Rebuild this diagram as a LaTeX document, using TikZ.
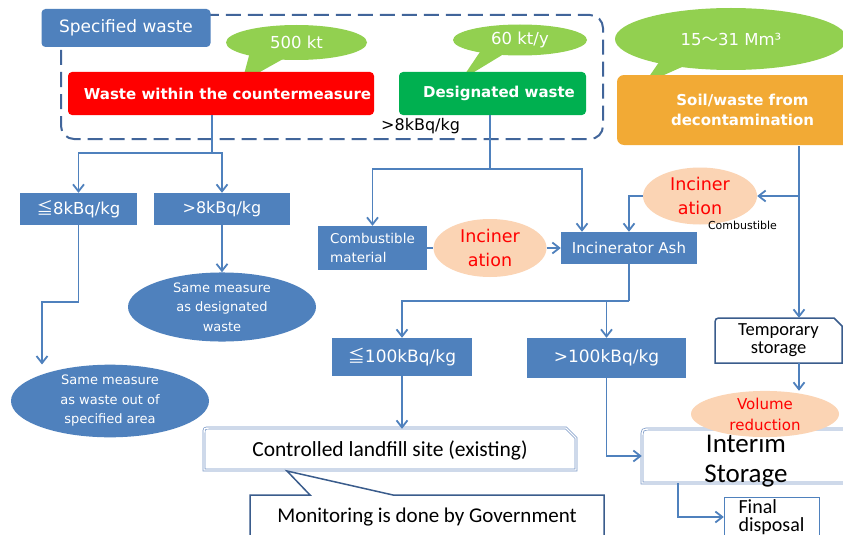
\documentclass[tikz,border=0pt]{standalone}
\usepackage{fontspec}
\setmainfont{DejaVu Sans}
\newfontfamily\mf{DejaVu Sans}
\newfontfamily\cf{Carlito}
\newfontfamily\jf{Noto Sans CJK JP}
\usetikzlibrary{arrows.meta,shapes.geometric,calc}
\newcommand{\fsz}[2]{\fontsize{#1}{#2}\selectfont}
\definecolor{mblue}{HTML}{4F81BD}
\definecolor{lgreen}{HTML}{92D050}
\definecolor{dgreen}{HTML}{00B050}
\definecolor{orng}{HTML}{F2AA35}
\definecolor{peach}{HTML}{FBD4B4}
\definecolor{dframe}{HTML}{41659A}
\definecolor{dborder}{HTML}{3A5C8C}
\definecolor{lborder}{HTML}{7594C4}
\begin{document}
\begin{tikzpicture}[x=1pt,y=-1pt,
  conn/.style={draw=mblue,line width=1.8pt},
  arr/.style={conn,-{Straight Barb[length=7pt,width=11pt]}},
  sz/.style 2 args={minimum width=#1pt,minimum height=#2pt},
  bbox/.style={rectangle,fill=mblue,text=white,inner sep=0pt,align=center},
  bell/.style={ellipse,fill=mblue,text=white,inner sep=0pt,align=center,font={\mf\fsz{13}{19.5}}},
  pell/.style={ellipse,fill=peach,text=red,inner sep=0pt,align=center},
  gell/.style={ellipse,fill=lgreen,text=white,inner sep=0pt,font={\mf\fsz{16.5}{20}}},
  wbox/.style={fill=white,draw=dborder,line width=1.5pt},
  dbl/.style={fill=white,draw=lborder,line width=0.7pt,double=white,double distance=1.4pt},
  plain/.style={inner sep=0pt,align=center}]
\useasboundingbox (0,0) rectangle (843,535);
\clip (0,0) rectangle (843,535);
\fill[white] (0,0) rectangle (843,535);

% dashed frame and its title
\draw[dframe,line width=2pt,dash pattern=on 15pt off 7pt,rounded corners=13pt] (61,15) rectangle (603,139);
\node[bbox,sz={169}{38},rounded corners=4pt,font={\mf\fsz{17}{20}}] (spec) at (126,28) {Specified waste};

% callout tails
\fill[lgreen] (250,52) -- (292,54) -- (242,82) -- cycle;
\fill[lgreen] (484,46) -- (512,49) -- (461,80) -- cycle;
\fill[lgreen] (666,52) -- (702,58) -- (644,84) -- cycle;
\node[gell,sz={141}{35}] (c500) at (296.5,42.5) {500 kt};
\node[gell,sz={134}{31}] (c60) at (520,40) {60 kt/y};
\node[gell,sz={232}{62}] (c15) at (731,39) {15{\jf 〜}31 Mm³};

% top boxes
\node[bbox,fill=red,sz={306}{43},rounded corners=4pt,font={\mf\bfseries\fsz{15}{18}}] (red) at (221,93.5) {\hspace*{13pt}Waste within the countermeasure};
\node[bbox,fill=dgreen,sz={187}{43},rounded corners=4pt,font={\mf\bfseries\fsz{15}{18}}] (green) at (492.5,93.5) {\hspace*{13pt}Designated waste};
\node[bbox,fill=orng,sz={251}{70},rounded corners=7pt,font={\mf\bfseries\fsz{15}{20}}] (orange) at (742.5,110) {Soil/waste from\\decontamination};
\node[plain,anchor=west,font={\mf\fsz{16}{18}}] (gt8lab) at (381,126) {>8kBq/kg};

% blue boxes
\node[bbox,sz={117}{32},font={\mf\fsz{16.5}{18}}] (le8) at (78.5,209) {{\jf ≦}8kBq/kg};
\node[bbox,sz={136}{32},font={\mf\fsz{16}{18}}] (gt8) at (222,209) {>8kBq/kg};
\node[bbox,sz={109}{44},font={\mf\fsz{13.5}{19}},align=left] (comb) at (372.5,248) {Combustible\\material};
\node[bbox,sz={136}{32},font={\mf\fsz{15}{18}}] (ash) at (629,248) {Incinerator Ash};
\node[bbox,sz={140}{38},font={\mf\fsz{17}{20}}] (le100) at (402,357) {{\jf ≦}100kBq/kg};
\node[bbox,sz={159}{40},font={\mf\fsz{17}{20}}] (gt100) at (606.5,358) {>100kBq/kg};

% blue ellipses
\node[bell,sz={188}{56}] (sm1) at (222,307) {Same measure\\as designated\\waste};
\node[bell,sz={198}{54}] (sm2) at (110,401) {Same measure\\as waste out of\\specified area};

% incineration ellipses
\node[pell,sz={113}{58},font={\mf\fsz{17.5}{24}}] (inc1) at (490,248) {Inciner\\ation};
\node[pell,sz={114}{57},font={\mf\fsz{17.5}{24}}] (inc2) at (700,196) {Inciner\\ation};
\node[plain,font={\mf\fsz{11}{13}}] (comblab) at (742.5,225) {Combustible};

% white boxes
\draw[wbox] (715,363) -- (715,326) .. controls (715,318) .. (723,318) -- (834,318) -- (842,326) -- (842,363) -- cycle;
\node[plain,sz={127}{45},font={\cf\fsz{18.5}{18}}] (temp) at (778.5,340.5) {Temporary\\storage};

\draw[dbl] (204,470) -- (204,434) .. controls (204,428) .. (210,428) -- (566,428) -- (576,438) -- (576,470) -- cycle;
\node[plain,sz={372}{42},font={\cf\fsz{21.5}{24}}] (lf) at (390,450) {Controlled landfill site (existing)};

\draw[wbox] (250,545) -- (250,495) -- (310,495) -- (287,471) -- (393,495) -- (604,495) -- (604,545) -- cycle;
\node[plain,sz={354}{44},font={\cf\fsz{21}{24}}] (mon) at (427,517) {Monitoring is done by Government};

\draw[dbl] (642,483) -- (642,438) .. controls (642,429) .. (651,429) -- (870,429) -- (870,483) -- cycle;
\node[plain,sz={226}{54}] (int) at (755,456) {};
\node[plain,font={\cf\fsz{27}{30}}] (inttext) at (746,461) {Interim\\Storage};
\node[pell,sz={148}{44},font={\mf\fsz{15}{21}}] (vol) at (765,414) {Volume\\reduction};

\draw[fill=white,draw=mblue,line width=1pt] (724,497) rectangle (819,545);
\node[plain,sz={95}{40},align=left,font={\cf\fsz{20}{18.5}}] (fin) at (771.5,517) {Final\\disposal};

% connectors
\coordinate (r1) at (212,153);
\draw[conn] (r1 |- red.south) -- (r1);
\draw[arr] (r1) -| (le8.north);
\draw[arr] (r1) -| (gt8.north);
\coordinate (l1) at (42,302);
\draw[arr] (le8.south) |- (l1) -- (l1 |- sm2.north);
\draw[arr] (gt8.south) -- (sm1.north);

\coordinate (d1) at (490,169);
\coordinate (a1) at (582,169);
\draw[conn] (d1 |- green.south) -- (d1);
\draw[arr] (d1) -| (comb.north);
\draw[arr] (d1) -- (a1) -- (a1 |- ash.north);
\draw[conn] (comb.east) -- (inc1.west);
\draw[arr] (inc1.east) -- (ash.west);

\coordinate (o1) at (799,146);
\coordinate (o2) at (799,196);
\draw[arr] (o1) -- (o1 |- temp.north);
\draw[arr] (o2) -- (inc2.east);
\draw[arr] (inc2.west) -| (ash.north);

\coordinate (a2) at (629,301);
\draw[conn] (ash.south) -- (a2);
\draw[arr] (a2) -| (le100.north);
\draw[arr] (a2) -| (gt100.north);
\draw[arr] (le100.south) -- (le100.south |- lf.north);
\draw[arr] (gt100.south) |- (int.west);
\draw[arr] (o1 |- temp.south) -- (o1 |- vol.north);
\coordinate (i1) at (678,483);
\draw[arr] (i1) |- (fin.west);
\end{tikzpicture}
\end{document}
